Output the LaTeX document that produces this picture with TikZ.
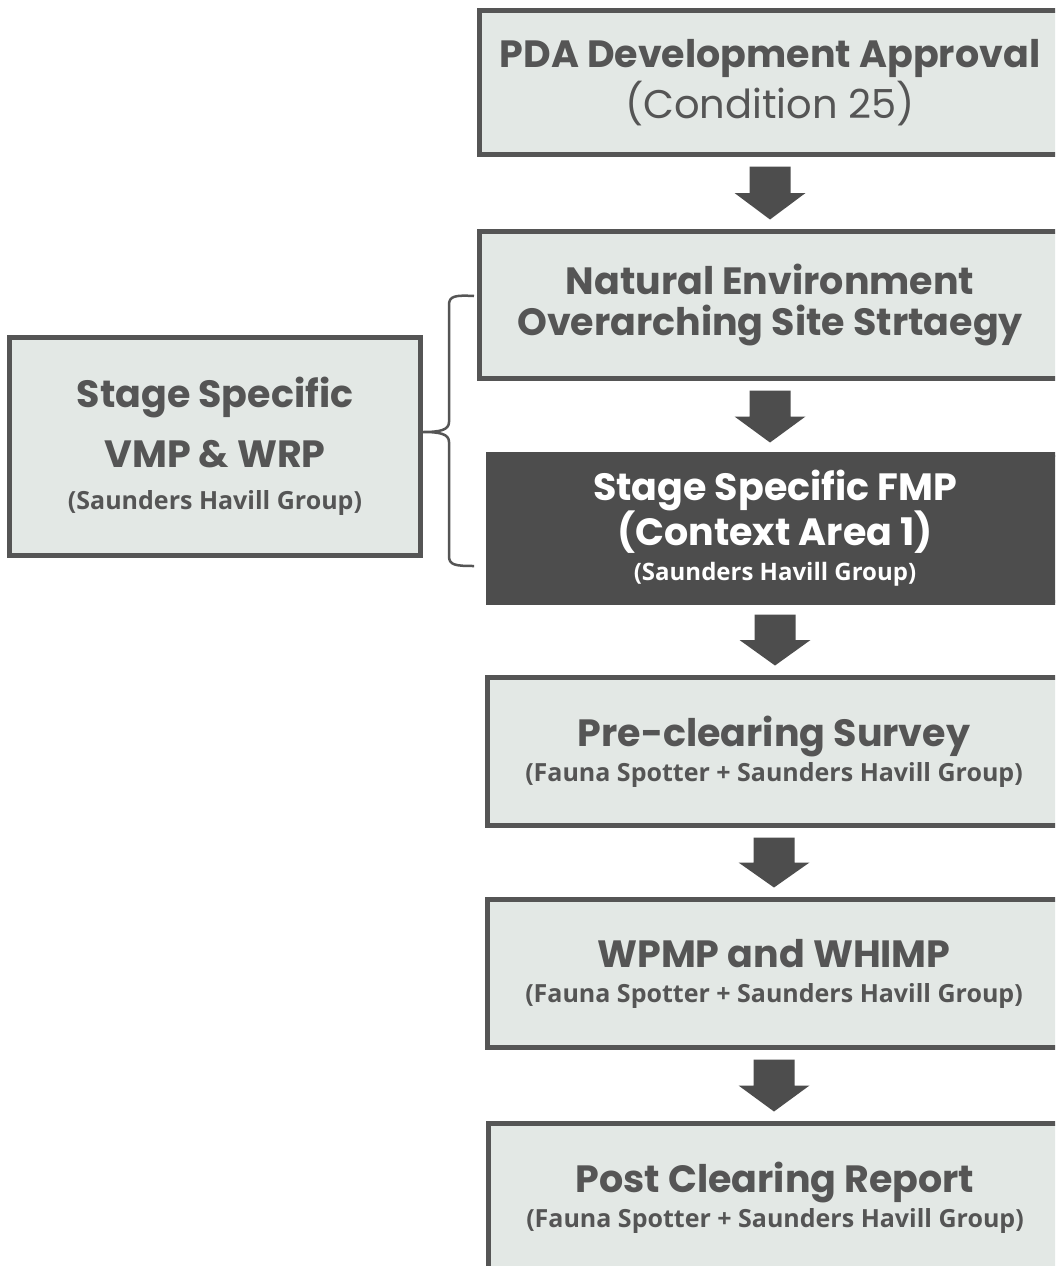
\documentclass[tikz,border=0pt]{standalone}
\usepackage{fontspec}
\newfontfamily\headfont{Poppins}
\newfontfamily\subfont{Open Sans}
\usetikzlibrary{calc}
\definecolor{boxfill}{HTML}{E3E8E5}
\definecolor{ink}{HTML}{555555}
\definecolor{darkfill}{HTML}{4D4D4D}
\newcommand\headsize{\headfont\bfseries\fontsize{38}{41}\selectfont}
\newcommand\subsize{\subfont\bfseries\fontsize{25}{28}\selectfont}
\newcommand\subsizesmall{\subfont\bfseries\fontsize{24}{28}\selectfont}
\begin{document}
\begin{tikzpicture}[x=1pt,y=-1pt,
  box/.style={draw=ink, line width=5pt, fill=boxfill, text=ink, align=center,
    inner sep=0pt, font=\headsize},
  darkbox/.style={box, draw=darkfill, fill=darkfill, text=white},
  arrowc/.style={fill=darkfill},
  brace/.style={draw=ink, line width=2.5pt},
  fatarrow/.style={to path={
    let \p1=(\tikztostart), \p2=(\tikztotarget),
        \p3=($(\tikztostart)!0.5!(\tikztotarget)$) in
    (\x1-20.5pt,\y1-9.5pt) -- (\x1+20.5pt,\y1-9.5pt) -- (\x1+20.5pt,\y3)
    -- (\x1+35.5pt,\y3) -- (\x1,\y2+9.5pt) -- (\x1-35.5pt,\y3)
    -- (\x1-20.5pt,\y3) -- cycle}}]
\clip (0,0) rectangle (1055,1266);
\fill[white] (0,0) rectangle (1055,1266);

\node[box, minimum width=581pt, minimum height=144pt] (b1) at (770,82.5)
  {PDA Development Approval\\[2pt]{\mdseries\fontsize{40}{41}\selectfont (Condition 25)}};
\node[box, minimum width=581pt, minimum height=147pt] (b2) at (770,305)
  {Natural Environment\\Overarching Site Strtaegy};
\node[darkbox, minimum width=573pt, minimum height=148pt] (b3) at (775,528.5)
  {Stage Specific FMP\\[-1pt](Context Area 1)\\[-6pt]{\subsizesmall (Saunders Havill Group)}};
\node[box, minimum width=573pt, minimum height=148pt] (b4) at (774,751.5)
  {Pre-clearing Survey\\[-6pt]{\subsize (Fauna Spotter + Saunders Havill Group)}};
\node[box, minimum width=573pt, minimum height=148pt] (b5) at (774,973.5)
  {WPMP and WHIMP\\[-6pt]{\subsize (Fauna Spotter + Saunders Havill Group)}};
\node[box, minimum width=573pt, minimum height=148pt] (b6) at (775,1197.5)
  {Post Clearing Report\\[-6pt]{\subsize (Fauna Spotter + Saunders Havill Group)}};
\node[box, minimum width=411pt, minimum height=218pt] (lb) at (215,446.5)
  {Stage Specific\\[19pt]VMP \& WRP\\[1pt]{\subsize (Saunders Havill Group)}};

\fill[arrowc] (b1.south) to[fatarrow] (b2.north);
\fill[arrowc] (b2.south) to[fatarrow] (b3.north);
\fill[arrowc] (b3.south) to[fatarrow] (b4.north);
\fill[arrowc] (b4.south) to[fatarrow] (b5.north);
\fill[arrowc] (b5.south) to[fatarrow] (b6.north);

\coordinate (brtop) at (474,296);
\coordinate (brbot) at (474,566);
\coordinate (brtip) at (lb.east |- 0,432);
\draw[brace] (brtop) .. controls (455,295) and (449,296) .. (449,305)
  -- (449,422) .. controls (449,430) and (440,432) .. (brtip)
  .. controls (440,432) and (449,434) .. (449,442)
  -- (449,556) .. controls (449,565) and (455,566) .. (brbot);
\end{tikzpicture}
\end{document}
